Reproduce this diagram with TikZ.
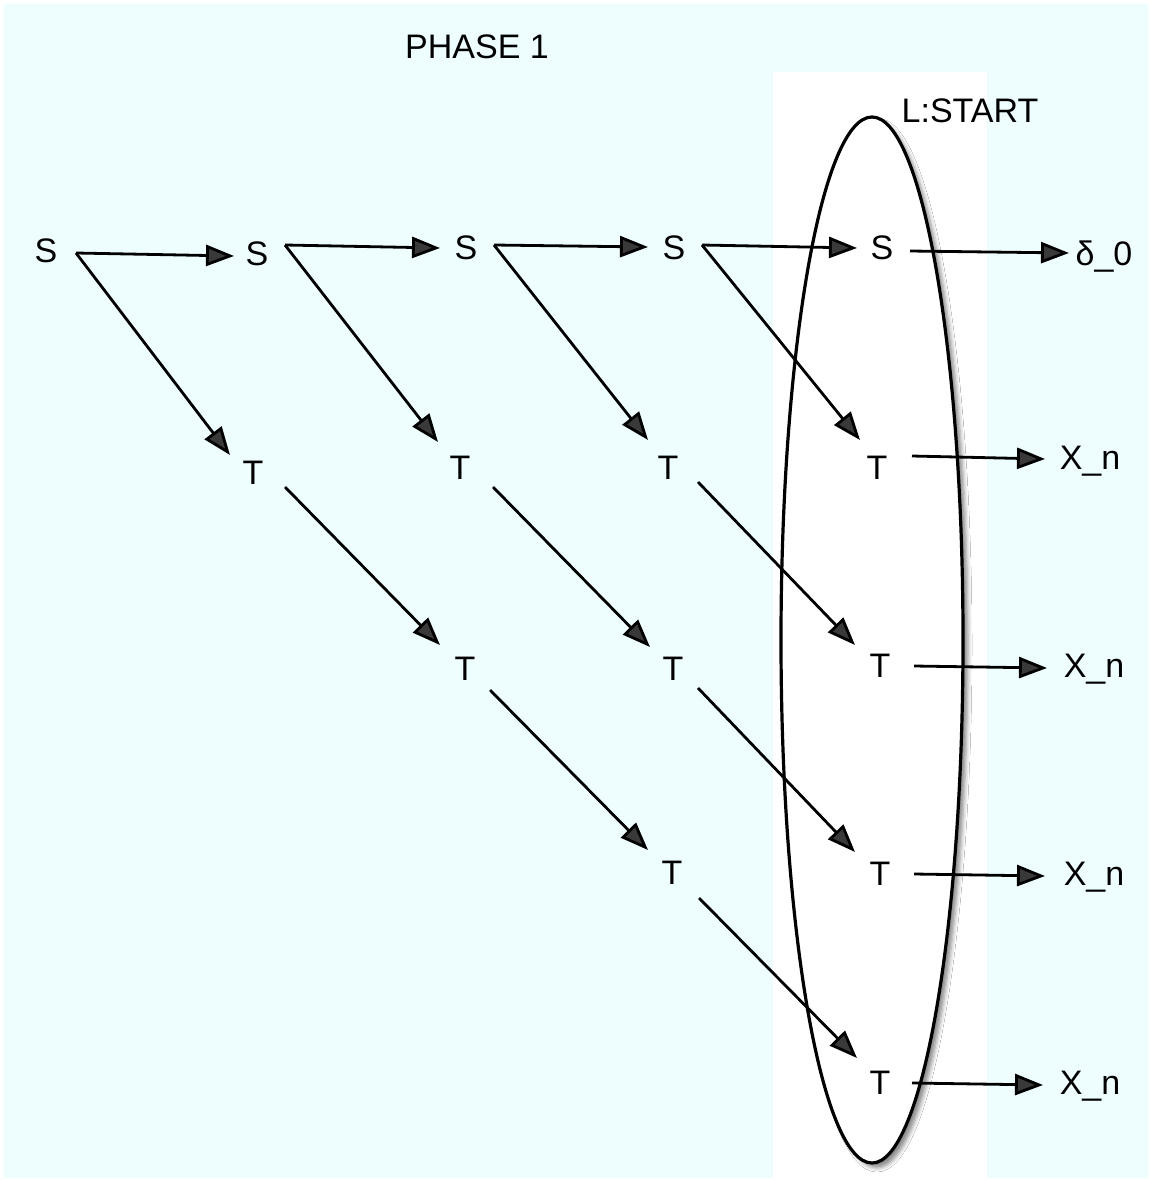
\documentclass[tikz,border=0pt]{standalone}
\usepackage{fontspec}
\setmainfont{Liberation Sans}
\usetikzlibrary{arrows.meta,calc,shadows.blur}
\definecolor{bgcyan}{HTML}{EEFEFF}
\tikzset{
  lbl/.style={inner sep=0pt, text height=24pt, text depth=0pt, font=\fontsize{34}{40}\selectfont, anchor=center},
  arr/.style={line width=2.8pt, -{Triangle[length=28pt,width=21pt]}},
}
\begin{document}
\begin{tikzpicture}[x=1pt,y=-1pt]
\useasboundingbox (0,0) rectangle (1151,1181);
\fill[white] (0,0) rectangle (1151,1181);
\fill[bgcyan] (4,4) rectangle (1148,1178);
\fill[white] (773,72) rectangle (987,1181);
\draw[line width=3.2pt, fill=white, blur shadow={shadow xshift=5pt, shadow yshift=-5pt, shadow blur radius=4pt, shadow opacity=45}] (872,640) ellipse [x radius=91, y radius=523];

\node[lbl] (ph) at (477,46) {PHASE 1};
\node[lbl] (ls) at (970,110) {L:START};

\node[lbl] (s1) at (46,250) {S};
\node[lbl] (s2) at (257,253) {S};
\node[lbl] (s3) at (466,247) {S};
\node[lbl] (s4) at (674,247) {S};
\node[lbl] (s5) at (882,247) {S};
\node[lbl] (d0) at (1104,253) {δ\_0};

\node[lbl] (t1) at (253,472) {T};
\node[lbl] (t2) at (460,467) {T};
\node[lbl] (t3) at (668,467) {T};
\node[lbl] (t4) at (877,467) {T};
\node[lbl] (x1) at (1090,457) {X\_n};

\node[lbl] (t5) at (465,668) {T};
\node[lbl] (t6) at (673,668) {T};
\node[lbl] (t7) at (880,665) {T};
\node[lbl] (x2) at (1094,665) {X\_n};

\node[lbl] (t8) at (672,872) {T};
\node[lbl] (t9) at (880,873) {T};
\node[lbl] (x3) at (1094,873) {X\_n};

\node[lbl] (t10) at (880,1082) {T};
\node[lbl] (x4) at (1090,1082) {X\_n};

% S row
\draw[arr] ($(s1)+(30,3)$) -- ($(s2)+(-23,3)$);
\draw[arr] ($(s1)+(30,3)$) -- ($(t1)+(-23,-17)$);
\draw[arr] ($(s2)+(28,-8)$) -- ($(s3)+(-26,1)$);
\draw[arr] ($(s2)+(28,-8)$) -- ($(t2)+(-22,-25)$);
\draw[arr] ($(s3)+(28,-2)$) -- ($(s4)+(-26,0)$);
\draw[arr] ($(s3)+(28,-2)$) -- ($(t3)+(-20,-27)$);
\draw[arr] ($(s4)+(28,-2)$) -- ($(s5)+(-25,1)$);
\draw[arr] ($(s4)+(28,-2)$) -- ($(t4)+(-17,-27)$);
\draw[arr] ($(s5)+(28,4)$) -- ($(d0)+(-35,0)$);
% diagonals
\draw[arr] ($(t1)+(32,15)$) -- ($(t5)+(-25,-23)$);
\draw[arr] ($(t2)+(33,20)$) -- ($(t6)+(-23,-21)$);
\draw[arr] ($(t3)+(30,15)$) -- ($(t7)+(-25,-20)$);
\draw[arr] ($(t5)+(25,22)$) -- ($(t8)+(-24,-22)$);
\draw[arr] ($(t6)+(25,20)$) -- ($(t9)+(-25,-21)$);
\draw[arr] ($(t8)+(27,26)$) -- ($(t10)+(-23,-24)$);
% outputs
\draw[arr] ($(t4)+(35,-11)$) -- ($(x1)+(-45,2)$);
\draw[arr] ($(t7)+(34,1)$) -- ($(x2)+(-47,3)$);
\draw[arr] ($(t9)+(34,1)$) -- ($(x3)+(-49,3)$);
\draw[arr] ($(t10)+(32,1)$) -- ($(x4)+(-47,3)$);
\end{tikzpicture}
\end{document}
